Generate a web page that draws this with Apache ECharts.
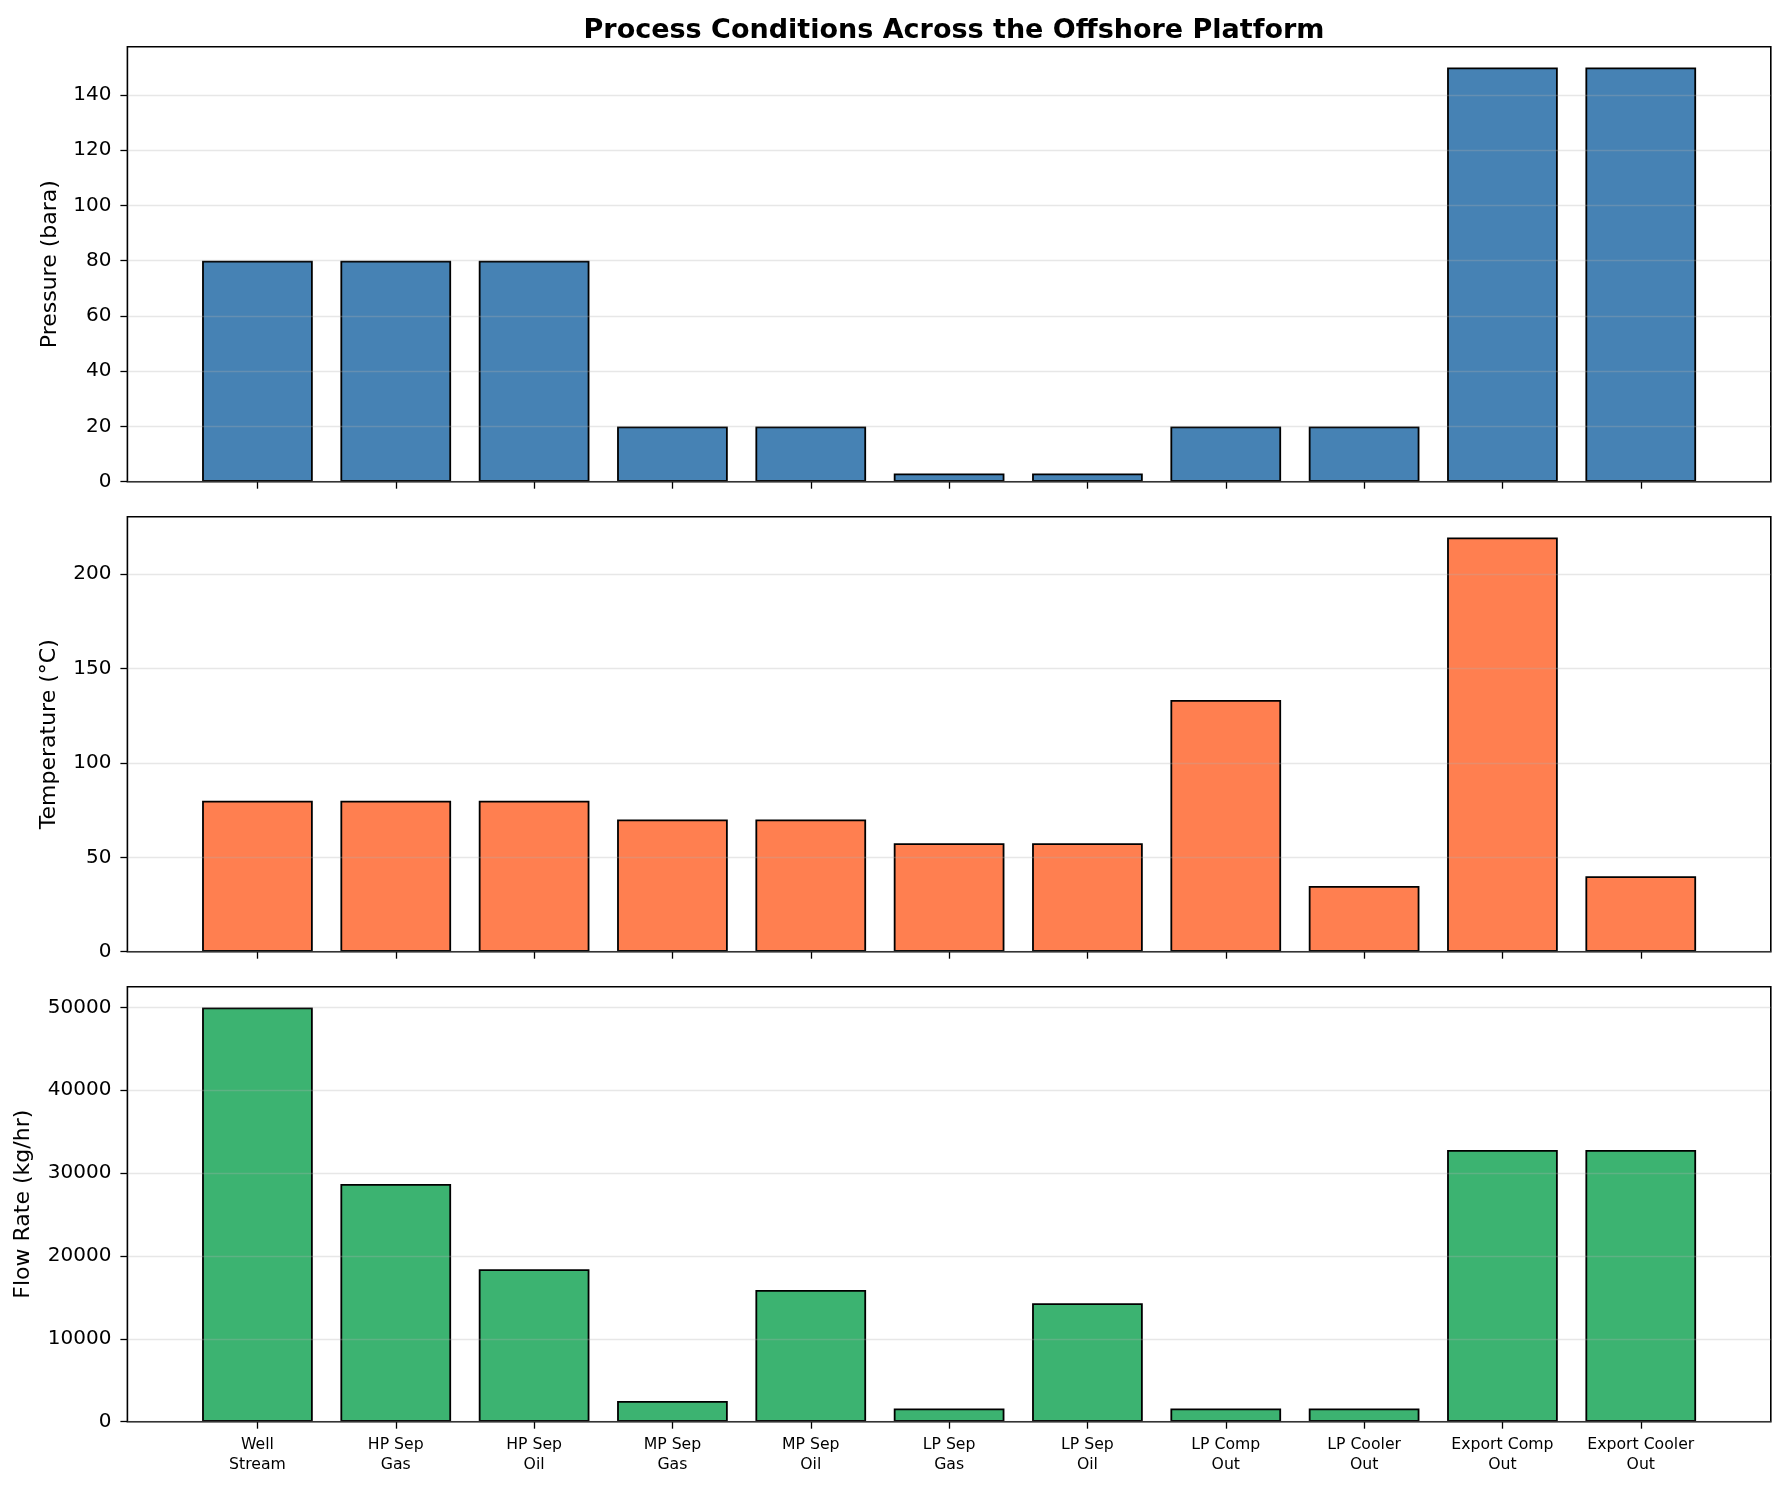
<!DOCTYPE html>
<html>
<head>
<meta charset="utf-8">
<title>Process Conditions</title>
<script src="https://cdn.jsdelivr.net/npm/echarts@6/dist/echarts.min.js"></script>
<style>
  html, body { margin: 0; padding: 0; background: #fff; }
  #chart { width: 1785px; height: 1490px; }
</style>
</head>
<body>
<div id="chart"></div>
<script>
// stream names along the process train
const streams = ['Well\nStream', 'HP Sep\nGas', 'HP Sep\nOil', 'MP Sep\nGas', 'MP Sep\nOil',
  'LP Sep\nGas', 'LP Sep\nOil', 'LP Comp\nOut', 'LP Cooler\nOut', 'Export Comp\nOut', 'Export Cooler\nOut']

const pressure = [80, 80, 80, 20, 20, 3, 3, 20, 20, 150, 150]
const temperature = [80, 80, 80, 70, 70, 57.5, 57.5, 133.3, 34.8, 219.4, 40]
const flowRate = [50000, 28700, 18400, 2500, 15900, 1600, 14300, 1600, 1600, 32800, 32800]

const pressureTicks = [0, 20, 40, 60, 80, 100, 120, 140]
const temperatureTicks = [0, 50, 100, 150, 200]
const flowTicks = [0, 10000, 20000, 30000, 40000, 50000]

const font = 'DejaVu Sans'
const positions = streams.map((s, i) => i)

function pairs(values) {
  return values.map((v, i) => [i, v])
}

const panels = [
  {name: 'Pressure (bara)', data: pressure, ticks: pressureTicks, max: 157.5, color: '#4682B4', gap: 66},
  {name: 'Temperature (°C)', data: temperature, ticks: temperatureTicks, max: 230.4, color: '#FF7F50', gap: 67},
  {name: 'Flow Rate (kg/hr)', data: flowRate, ticks: flowTicks, max: 52500, color: '#3CB371', gap: 93}
]
const tops = [46.7, 516.7, 986.7]

const option = {
  backgroundColor: '#fff',
  animation: false,
  title: {
    text: 'Process Conditions Across the Offshore Platform',
    left: 949,
    textAlign: 'center',
    top: 12,
    textStyle: {fontFamily: font, fontSize: 27, fontWeight: 'bold', color: '#000'}
  },
  grid: [],
  xAxis: [],
  yAxis: [],
  series: []
}

panels.forEach((p, k) => {
  option.grid.push({
    left: 127.4, right: 14.2, top: tops[k], height: 435,
    show: true, borderColor: '#000', borderWidth: 1.6, backgroundColor: 'transparent'
  })
  option.xAxis.push({
    type: 'value', gridIndex: k, min: -0.94, max: 10.94,
    axisLine: {show: false, onZero: false},
    splitLine: {show: false},
    axisTick: {show: true, length: 7, customValues: positions, lineStyle: {color: '#000', width: 1.3}},
    axisLabel: {
      show: k === 2, customValues: positions, margin: 13,
      fontFamily: font, fontSize: 15.7, lineHeight: 20, color: '#000',
      formatter: v => streams[Math.round(v)]
    }
  })
  option.yAxis.push({
    type: 'value', gridIndex: k, min: 0, max: p.max, z: 5,
    name: p.name, nameLocation: 'middle', nameGap: p.gap,
    nameTextStyle: {fontFamily: font, fontSize: 22, color: '#000'},
    axisLine: {show: false, onZero: false},
    axisTick: {show: true, length: 7, customValues: p.ticks, lineStyle: {color: '#000', width: 1.3}},
    axisLabel: {
      customValues: p.ticks, margin: 16, fontFamily: font, fontSize: 20, color: '#000',
      formatter: v => String(v)
    },
    splitLine: {show: true, lineStyle: {color: 'rgba(176,176,176,0.3)', width: 1.4}}
  })
  option.series.push({
    type: 'bar', xAxisIndex: k, yAxisIndex: k,
    data: pairs(p.data),
    barWidth: 110.7,
    itemStyle: {color: p.color, borderColor: '#000', borderWidth: 1.8}
  })
})

const chart = echarts.init(document.getElementById('chart'))
chart.setOption(option)
</script>
</body>
</html>
